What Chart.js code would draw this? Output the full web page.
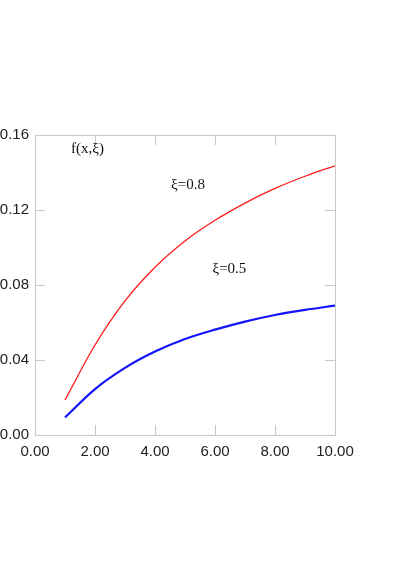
<!DOCTYPE html>
<html>
<head>
<meta charset="utf-8">
<script src="https://cdn.jsdelivr.net/npm/chart.js@4"></script>
<style>
  html, body { margin: 0; padding: 0; background: #fff; }
  #wrap { width: 394px; height: 567px; }
</style>
</head>
<body>
<div id="wrap"><canvas id="chart"></canvas></div>
<script>
// ── data ───────────────────────────────────────
const xs       = [1, 2, 3, 4, 5, 6, 7, 8, 9, 10];
const f08      = [0.0187, 0.048, 0.0715, 0.0895, 0.1035, 0.1145, 0.1237, 0.1315, 0.138, 0.1436];
const f05      = [0.0094, 0.0245, 0.0358, 0.0445, 0.0512, 0.0562, 0.0605, 0.064, 0.0667, 0.069];
const xTicks   = [0, 2, 4, 6, 8, 10];
const yTicks   = [0, 0.04, 0.08, 0.12, 0.16];
const notes    = [
  { text: 'f(x,\u03be)',   x: 1.75, y: 0.1525 },
  { text: '\u03be=0.8',    x: 5.1,  y: 0.1335 },
  { text: '\u03be=0.5',    x: 6.48, y: 0.0885 },
];

const FRAME = '#c8c8c8';

// frame + inward tick marks + text notes
const framePlugin = {
  id: 'frame',
  afterDatasetsDraw(chart) {
    const { ctx, chartArea: a, scales: { x, y } } = chart;
    ctx.save();
    ctx.strokeStyle = FRAME;
    ctx.lineWidth = 1;
    ctx.strokeRect(a.left + 0.5, a.top + 0.5, a.right - a.left, a.bottom - a.top);
    ctx.beginPath();
    xTicks.forEach(v => {
      const px = Math.round(x.getPixelForValue(v)) + 0.5;
      ctx.moveTo(px, a.bottom); ctx.lineTo(px, a.bottom - 10);
      ctx.moveTo(px, a.top);    ctx.lineTo(px, a.top + 10);
    });
    yTicks.forEach(v => {
      const py = Math.round(y.getPixelForValue(v)) + 0.5;
      ctx.moveTo(a.left, py);  ctx.lineTo(a.left + 10, py);
      ctx.moveTo(a.right, py); ctx.lineTo(a.right - 10, py);
    });
    ctx.stroke();

    ctx.fillStyle = '#111';
    ctx.font = '15px "Liberation Serif", "Times New Roman", serif';
    ctx.textAlign = 'center';
    ctx.textBaseline = 'middle';
    notes.forEach(n => ctx.fillText(n.text, x.getPixelForValue(n.x), y.getPixelForValue(n.y)));
    ctx.restore();
  },
};

new Chart(document.getElementById('chart'), {
  type: 'line',
  data: {
    datasets: [
      {
        label: '\u03be=0.8',
        data: xs.map((v, i) => ({ x: v, y: f08[i] })),
        borderColor: '#ff1a1a',
        borderWidth: 1.3,
        pointRadius: 0,
        cubicInterpolationMode: 'monotone',
      },
      {
        label: '\u03be=0.5',
        data: xs.map((v, i) => ({ x: v, y: f05[i] })),
        borderColor: '#1414ff',
        borderWidth: 2.2,
        pointRadius: 0,
        cubicInterpolationMode: 'monotone',
      },
    ],
  },
  options: {
    responsive: true,
    maintainAspectRatio: false,
    animation: false,
    layout: { padding: { top: 135, right: 59, left: 0, bottom: 0 } },
    plugins: { legend: { display: false }, tooltip: { enabled: false } },
    scales: {
      x: {
        type: 'linear',
        min: 0, max: 10,
        afterFit: s => { s.height = 132; },
        afterBuildTicks: s => { s.ticks = xTicks.map(v => ({ value: v })); },
        grid: { display: false, drawTicks: false },
        border: { display: false },
        ticks: {
          padding: 8,
          color: '#222',
          font: { family: '"Liberation Sans", Arial, sans-serif', size: 15 },
          callback: v => v.toFixed(2),
        },
      },
      y: {
        type: 'linear',
        min: 0, max: 0.16,
        afterFit: s => { s.width = 35; },
        afterBuildTicks: s => { s.ticks = yTicks.map(v => ({ value: v })); },
        grid: { display: false, drawTicks: false },
        border: { display: false },
        ticks: {
          padding: 6,
          color: '#222',
          font: { family: '"Liberation Sans", Arial, sans-serif', size: 15 },
          callback: v => v.toFixed(2),
        },
      },
    },
  },
  plugins: [framePlugin],
});
</script>
</body>
</html>
